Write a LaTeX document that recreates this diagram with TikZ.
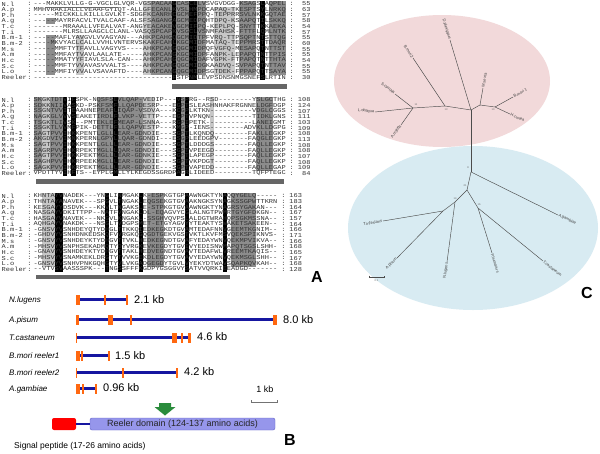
\documentclass[tikz,border=0pt]{standalone}
\usepackage{fontspec}
\usetikzlibrary{calc}
\setmainfont{Liberation Sans}
\setmonofont{Liberation Mono}
\newfontfamily\alfont{Liberation Mono}[FakeStretch=1.167]
\definecolor{lg}{gray}{0.78}
\definecolor{mg}{gray}{0.55}
\definecolor{bar}{gray}{0.40}
\definecolor{pinkell}{RGB}{242,217,218}
\definecolor{blueell}{RGB}{216,235,242}
\definecolor{genel}{RGB}{22,22,160}
\definecolor{exon}{RGB}{255,104,16}
\definecolor{arrg}{RGB}{42,140,60}
\definecolor{reelf}{RGB}{150,150,235}
\definecolor{reeld}{RGB}{100,100,200}
\definecolor{treel}{gray}{0.30}
\newcommand{\shd}[6]{\fill[#6] ({33.5+(#2-1)*4.2},{#1+(#4-1)*5.65-2.8}) rectangle ({33.5+#3*4.2},{#1+(#5-1)*5.65+2.8});}
\newcommand{\alblock}[5]{%
  \foreach \nm/\sq/\num [count=\i] in {#2} {
    \pgfmathsetmacro{\yy}{#1+(\i-1)*5.65}
    \node[alt, anchor=west] (#3n\i) at (1.5,\yy) {\nm};
    \node[alt] (#3c\i) at (29.5,\yy) {:};
    \node[alt, anchor=west] (#3s\i) at (33.5,\yy) {\sq};
    \node[alt] (#3d\i) at (#4,\yy) {:};
    \node[alt, anchor=east] (#3m\i) at (#5,\yy) {\num};
  }}
\begin{document}
\begin{tikzpicture}[x=1pt,y=-1pt,
  alt/.style={inner sep=0pt, font=\alfont\fontsize{6}{6}\selectfont, text=black!80},
  tl/.style={inner sep=0.6pt, font=\fontsize{4}{4}\selectfont, text=black!75},
  nl/.style={inner sep=0pt, font=\fontsize{2.6}{3}\selectfont, text=black!60},
  tree/.style={draw=treel, line width=0.45pt},
  sp/.style={anchor=west, inner sep=0pt, font=\itshape\fontsize{8}{9}\selectfont},
  kb/.style={anchor=west, inner sep=0pt, font=\fontsize{11}{12}\selectfont},
  gline/.style={draw=genel, line width=2.4pt},
  ex/.style={fill=exon},
  panel/.style={inner sep=0pt, font=\bfseries\fontsize{16}{16}\selectfont}]
\useasboundingbox (0,0) rectangle (600,453);
\fill[white] (0,0) rectangle (600,453);

% ---------- alignment shading, block 1 ----------
\shd{4}{4}{5}{4}{4}{mg}\shd{4}{4}{5}{7}{13}{mg}
\shd{4}{11}{12}{7}{13}{lg}
\shd{4}{27}{28}{1}{13}{lg}
\shd{4}{29}{33}{1}{13}{mg}
\shd{4}{34}{34}{1}{14}{black}
\shd{4}{35}{37}{1}{13}{mg}
\shd{4}{38}{39}{1}{14}{black}
\shd{4}{40}{41}{1}{13}{mg}
\shd{4}{44}{48}{2}{13}{lg}
\shd{4}{50}{53}{1}{13}{mg}
\shd{4}{55}{55}{1}{14}{black}
\shd{4}{57}{60}{1}{13}{mg}
% block 2
\shd{100}{1}{2}{1}{13}{mg}
\shd{100}{3}{4}{1}{13}{lg}
\shd{100}{5}{7}{1}{13}{mg}
\shd{100}{8}{8}{1}{14}{black}
\shd{100}{10}{10}{1}{14}{black}
\shd{100}{16}{19}{1}{13}{mg}
\shd{100}{20}{20}{1}{14}{black}
\shd{100}{21}{26}{1}{13}{mg}
\shd{100}{27}{29}{1}{13}{lg}
\shd{100}{35}{35}{1}{14}{black}
\shd{100}{36}{36}{1}{13}{mg}
\shd{100}{37}{37}{1}{14}{black}
\shd{100}{43}{43}{1}{13}{lg}
\shd{100}{54}{57}{1}{13}{mg}
% block 3
\shd{196}{3}{5}{1}{13}{lg}
\shd{196}{6}{7}{1}{14}{black}
\shd{196}{18}{18}{1}{14}{black}
\shd{196}{21}{21}{1}{14}{black}
\shd{196}{26}{26}{1}{14}{black}
\shd{196}{28}{31}{1}{13}{mg}
\shd{196}{37}{37}{1}{14}{black}
\shd{196}{46}{46}{1}{14}{black}
\shd{196}{48}{53}{1}{13}{mg}

% ---------- alignment text ----------
\alblock{4}{N.l/---MAKKLVLLG-G-VGCLGLVQR-VGSPACAAGCASCELVSVGVDGG-KSAGSLAQPEL/55,
A.p/MMHVRAKIALLLVEAAFGYIQT-ALLGFECANLKVSLHMPDCAPAQ-TKESPTSYLNRKQ/63,
P.h/-----MICKKLLKILLLGVLKT-SDGFKCANRHCGCMEFPPQ-TEPPRRSVLNKKGQTAE/57,
A.g/-----MAYRFACVLTVALCAAF-ALSFSAGANGAGCMEDPQHTDPQ-KSAAPQTILSKKQ/58,
T.c/-------MRAAALLVFEALVAT-ANGYEACAKEVGCMIFPQ-KEPLPQ-SNYTTKKAEKA/54,
T.i/-------MLRSLLAAGCLCLANL-VASQSPCAPKVSGCLVSNMFAHSK-FTTFLQMLNTK/57,
B.m-1/-----MAFLYAVGVLVVAGYAN---AHKPCAHGQGCMIDTPFVRQ-TTPSQPTNTSTTQG/55,
B.m-2/----MKVYACLCALLVVHLVNTERVSKAKFCAHLKGCMIDFMATAQ-TEPPMRSTTDAQR/60,
M.s/-----MMFTYTFAVLLVAGYVS----AHKPCAHGQGCMIDPQFVGFQ-MESAPQTNTTST/55,
A.m/-----MMFAYTVAVLAALATE-----AHKPCANGKGCMIDPFANPK-LEPAPQTNTTPIS/55,
H.c/-----MMATYYFIAVLSLA-CAN---AHKPCAHGQGCMIDAFVGPK-FTPAPQTNTTHTA/54,
S.c/-----MMFTYVVAVASVVALTS----AHKPCAHGQGCMIDGKAADVQ-SVPAPQTNTTAV/55,
L.o/-----MMFIYVVALVSAVAFTD----AHKPCANGQGCMIDPSGTDEK-FPPAPQTTSAYA/55,
Reeler/---------------------------------FSTPNMLEVPSDNSNMGSNEFSLRTIN/30}{a}{291.8}{310.7}

\alblock{100}{N.l/SKGKTDTVIFSPK-NQSFSEVLQAP-VEDIP---VSPRG--RSD--------YSLGCTHG/108,
A.p/SDKKNIIVASKD-PSKFSMFLLQAPDESRP---EGPTSLEASHNHAKFRGNNELDGFDGP/124,
P.h/SSGNTVVITEAAHNEPEAFLIQAP-VSDVA---KCGPLKTKN----------VDGLCGGS/107,
A.g/NAGKGLVVVSEAKETIRDLFLVKP-VETTP---EGPTVPNQN----------TIDKLGNS/111,
T.c/TSGKTLIVSK--PMTEKLEFMEAP-LSNNA---RGPIPETK-----------LANEIGMT/103,
T.i/SSGKTLVVMFPIK-DETTLFLLQAPVESTP---KMGP-IENS--------ADVKLLDGPG/109,
B.m-1/SAGTPVVIHKKPENTLGLLLEAR-GDNDIE---SGPTLKQNDQ--------FAKLLEGKP/108,
B.m-2/AKGDVIVIMNKPERNLGPYLLQAR-GDNDI---ESGPLEEDGPV-------FAQGLEGKP/113,
M.s/SAGTPVVIHKKPENTLGLLLEAR-GDNDIE---SGPTLDDDGS--------FAQLLEGKP/108,
A.m/SAGRPVVIHKRPEKTMGLLLQAR-GDNDIE---SGPTVPEEGD--------FAQLLEGKP/108,
H.c/SAGTPVVIHKKPEKTMGLLLEAR-GDNKIE---SGPTLAPEGP--------FAQLLEGKP/107,
S.c/SAGHPVVIHKRPEEKMGLLLEAR-GDNDIE---SGPTVKPDGT--------FAQLLEGKP/108,
L.o/SAGKPVVIHKRPEKTMGLLLEAR-GDNDIE---SGPTVAPEDD--------FAQLLEGAP/109,
Reeler/VPDTTYVIHFTS--EYPLGMLLYLKEGDSSGRDPAGRLIDEED---------TQFPTEGC/84}{b}{291.8}{310.7}

\alblock{196}{N.l/KHNTAYVNADEK---YNGLINMGAKLK-ESPKGTGPAAWNGKTYNAQQYGELQ-----/163,
A.p/THNTAYANAVEK---SPGVLTNGAKLEQGSEKGTGVAAKNGKSYNAGKSSGPWTTKRN/183,
P.h/KESGAYYDSDVK---KKVLTNGAKSLE-STPKGTGVAAWNGKTYNAGRSYGAKAN---/164,
A.g/NASGAYVDKITTPP--NATFVNGAKLDL-EQAGVYCGLALNGTPWMRTGYGFDKGN--/167,
T.c/HASGAYVNAVEK---NKGVLKNGAKL-SSGHVQVPSLALDGTWRAHQPSGKMSSNA--/157,
T.i/AQHGAYVNAKDK---NSGLTVDGPSMET-ETGYAGVYYTEAKTYSWAKETSAKEEN--/164,
B.m-1/-GNSVYVSNHDEYQTYDHGLTTKKQIEDKEGKDTGVAMTEDAFNNVGEEMTKGNIM--/166,
B.m-2/-GHDVYVSNHDNKEDSKQFVVRGKQGQGDTGEKVGSTVKTLKVFMSVQEKSPIKNVS-/171,
M.s/-GNSVYVSNHDEYKTYDHGVTTVKLHEDKEGNDTGVAFYEDAYWNVQEKMPVIKVA--/166,
A.m/-MHSVYVSNPHSEKADMQTYDYVRGKEVKEGDYTGVIVYEDISNWMAPQTSGSLSHH-/168,
H.c/-GNAVYVSNHDEYKTYDHGVTTAKLHEDVEGNDTGVAVTEDAFWLVREEMTKAQIS--/165,
S.c/-MHSVYVSNAMKEKLDRGTYTVVKGEKDLEGDYTGVAVYEDAYWNVQEKMSGLSHH--/167,
L.o/-GNSVYVSNHVPNKGQHGTYVLVKGADGEGDYTGVLVYEKYDTWAVSQAPKQVKAH--/168,
Reeler/--VTVSVAASSSPK---TNGSSFFFKGDPYGSGGVYSATVVQRKIEEADGD-------/128}{c}{283.4}{302.3}

\draw[black!60, line width=0.5pt] (45,6.9) -- (118,6.9);
\fill[bar] (172,84) rectangle (287,88.5);
\fill[bar] (36,179) rectangle (284,184);
\fill[bar] (36,275) rectangle (230,279);
\node[panel] (pA) at (317,277) {A};

% ---------- panel B ----------
\node[sp] (s1) at (9,300) {N.lugens};
\node[sp] (s2) at (9,320) {A.pisum};
\node[sp] (s3) at (9,338) {T.castaneum};
\node[sp] (s4) at (9,356) {B.mori reeler1};
\node[sp] (s5) at (9,373) {B.mori reeler2};
\node[sp] (s6) at (9,389) {A.gambiae};

\draw[gline] (76,299.5) -- (127,299.5);
\fill[ex] (76,294.5) rectangle (80,304.5);
\fill[ex] (104.2,294.5) rectangle (106.2,304.5);
\fill[ex] (125.8,294.5) rectangle (127.8,304.5);
\node[kb] (k1) at (134,299.5) {2.1 kb};

\draw[gline] (76,319.5) -- (275,319.5);
\fill[ex] (76,314.5) rectangle (78.5,324.5);
\fill[ex] (108,314.5) rectangle (113,324.5);
\fill[ex] (130.2,314.5) rectangle (132.2,324.5);
\fill[ex] (273,314.5) rectangle (276.5,324.5);
\node[kb] (k2) at (283,319.5) {8.0 kb};

\draw[gline] (76,337.5) -- (190,337.5);
\fill[ex] (75.5,332.5) rectangle (77,342.5);
\fill[ex] (171.5,332.5) rectangle (176.5,342.5);
\fill[ex] (181.2,332.5) rectangle (183.2,342.5);
\fill[ex] (187.5,332.5) rectangle (190.5,342.5);
\node[kb] (k3) at (197,337) {4.6 kb};

\draw[gline] (76,355.5) -- (109,355.5);
\fill[ex] (76,350.5) rectangle (79.5,360.5);
\fill[ex] (80.7,350.5) rectangle (83.2,360.5);
\fill[ex] (107.6,350.5) rectangle (109.6,360.5);
\node[kb] (k4) at (115,355.5) {1.5 kb};

\draw[gline] (76,372.5) -- (177,372.5);
\fill[ex] (75.5,367.5) rectangle (77.3,377.5);
\fill[ex] (121.5,367.5) rectangle (124,377.5);
\fill[ex] (176.2,367.5) rectangle (178.2,377.5);
\node[kb] (k5) at (184,372) {4.2 kb};

\draw[gline] (76,388.5) -- (96,388.5);
\fill[ex] (76,383.5) rectangle (79.5,393.5);
\fill[ex] (82.3,383.5) rectangle (84.3,393.5);
\fill[ex] (94.5,383.5) rectangle (97,393.5);
\node[kb] (k6) at (103,388) {0.96 kb};

\node[inner sep=0pt, font=\fontsize{9}{10}\selectfont] (kbs) at (265,389) {1 kb};
\draw[black!55, line width=0.5pt] (251,400) -- (251,402) -- (277,402) -- (277,400);

\fill[arrg] (159,403) -- (171,403) -- (171,407) -- (175.5,407) -- (165,415.5) -- (154.5,407) -- (159,407) -- cycle;

\node[draw=none, fill=red, rounded corners=2pt, minimum width=24pt, minimum height=12pt, inner sep=0pt] (sig) at (64,424) {};
\node[draw=reeld, fill=reelf, rounded corners=2pt, minimum width=185pt, minimum height=12pt, inner sep=0pt,
      font=\fontsize{9}{10}\selectfont, text=black!85] (dom) at (182.5,424) {Reeler domain (124-137 amino acids)};
\draw[genel, line width=1.4pt] (sig.east) -- (dom.west);
\node[anchor=west, inner sep=0pt, font=\fontsize{8.5}{10}\selectfont] (sigt) at (14,446) {Signal peptide (17-26 amino acids)};
\node[panel] (pB) at (290,440) {B};

% ---------- panel C: tree ----------
\fill[pinkell] (442,81) ellipse [x radius=108pt, y radius=66pt];
\fill[blueell] (473,228) ellipse [x radius=125pt, y radius=82pt];

\coordinate (t1) at (471,110); \coordinate (t2) at (471,172);
\coordinate (n13) at (445,106); \coordinate (n11) at (413,108);
\coordinate (nm) at (480,105); \coordinate (n10) at (495,107);
\coordinate (Dp) at (450,40); \coordinate (Bm2) at (413,58);
\coordinate (Sc) at (395,94); \coordinate (Lo) at (375,112);
\coordinate (Am) at (401,125); \coordinate (Ms) at (483,88);
\coordinate (Bm1) at (513,97); \coordinate (Hc) at (510,114);
\coordinate (n21) at (467,190); \coordinate (n14) at (455,202);
\coordinate (nx) at (443,211); \coordinate (n16) at (478,208);
\coordinate (Ag) at (558,215); \coordinate (Ti) at (383,221);
\coordinate (Ap) at (397,258); \coordinate (Nl) at (447,262);
\coordinate (Ph) at (492,253); \coordinate (Tc) at (543,261);

\draw[tree] (t1) -- (t2);
\draw[tree] (t1) -- (Dp);
\draw[tree] (t1) -- (n13) -- (n11);
\draw[tree] (n13) -- (Bm2);
\draw[tree] (n11) -- (Sc);
\draw[tree] (n11) -- (Lo);
\draw[tree] (n11) -- (Am);
\draw[tree] (t1) -- (nm) -- (Ms);
\draw[tree] (nm) -- (n10) -- (Bm1);
\draw[tree] (n10) -- (Hc);
\draw[tree] (t2) -- (Ag);
\draw[tree] (t2) -- (n21) -- (n14) -- (nx) -- (Ti);
\draw[tree] (nx) -- (Ap);
\draw[tree] (n14) -- (Nl);
\draw[tree] (n21) -- (n16) -- (Ph);
\draw[tree] (n16) -- (Tc);

\node[tl, rotate=-73, anchor=east] (lDp) at (Dp) {D.plexippus};
\node[tl, rotate=-56, anchor=east] (lBm2) at (Bm2) {B.mori2};
\node[tl, rotate=-38, anchor=east] (lSc) at (Sc) {S.cynthia};
\node[tl, rotate=-6, anchor=east] (lLo) at (Lo) {L.obliqua};
\node[tl, rotate=55, anchor=east] (lAm) at (Am) {A.mylitta};
\node[tl, rotate=80, anchor=west] (lMs) at (Ms) {M.sexta};
\node[tl, rotate=29, anchor=west] (lBm1) at (Bm1) {B.mori 1};
\node[tl, rotate=-25, anchor=west] (lHc) at (Hc) {H.cunea};
\node[tl, rotate=-26, anchor=west] (lAg) at (Ag) {A.gambiae};
\node[tl, rotate=9.5, anchor=east] (lTi) at (Ti) {T.infestans};
\node[tl, rotate=45.6, anchor=east] (lAp) at (Ap) {A.pisum};
\node[tl, rotate=82, anchor=east] (lNl) at (Nl) {N.lugens};
\node[tl, rotate=-72.7, anchor=west] (lPh) at (Ph) {P.humanus};
\node[tl, rotate=-39, anchor=west] (lTc) at (Tc) {T.castaneum};

\node[nl] (b11) at (416,105) {11};
\node[nl] (b13) at (446,109.5) {13};
\node[nl] (b10) at (493,110) {10};
\node[nl] (b8) at (468,168) {8};
\node[nl] (b21) at (465,186) {21};
\node[nl] (b14) at (455,198.5) {14};
\node[nl] (b16) at (479,204.5) {16};

\coordinate (sb1) at (369,277); \coordinate (sb2) at (384,277);
\draw[treel, line width=0.4pt] ($(sb1)+(0,-1.5)$) -- (sb1) -- (sb2) -- ($(sb2)+(0,-1.5)$);
\node[nl] (sbl) at (376.5,281) {0.1};
\node[panel] (pC) at (587,293) {C};
\end{tikzpicture}
\end{document}
